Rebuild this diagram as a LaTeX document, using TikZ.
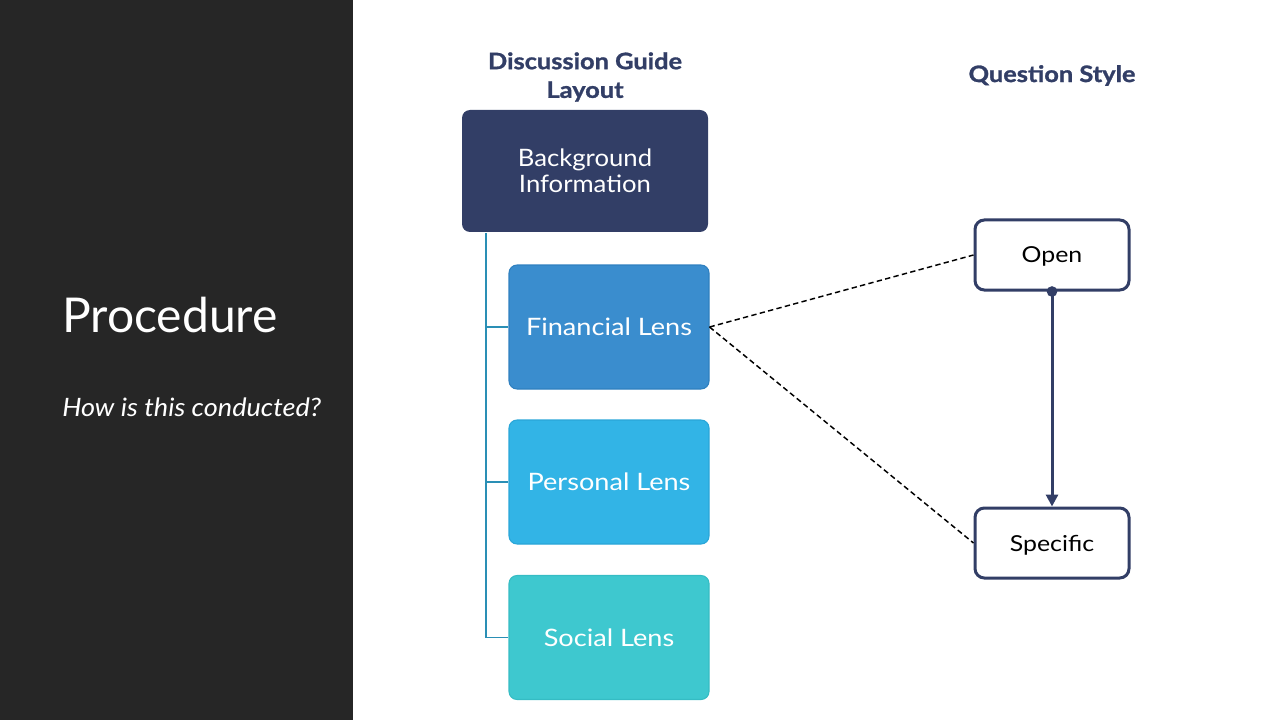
\documentclass[tikz,border=0pt]{standalone}
\usepackage{fontspec}
\setmainfont{Lato}
\newfontfamily\widefont{Lato}[FakeStretch=1.13]
\newfontfamily\slightwide{Lato}[FakeStretch=1.07]
\newfontfamily\headfont{Lato}[FakeStretch=1.12, BoldFeatures={FakeBold=1.2}]
\usetikzlibrary{arrows.meta}
\definecolor{panel}{HTML}{262626}
\definecolor{navy}{HTML}{323E66}
\definecolor{finblue}{HTML}{3A8DCE}
\definecolor{finedge}{HTML}{2F80C0}
\definecolor{perblue}{HTML}{32B4E6}
\definecolor{peredge}{HTML}{2AA6D8}
\definecolor{soccyan}{HTML}{3EC8CF}
\definecolor{socedge}{HTML}{35BCC4}
\definecolor{treeline}{HTML}{2A8FB5}
\tikzset{
  header/.style={text=navy, font=\headfont\bfseries\fontsize{17}{21.5}\selectfont, align=center},
  lensbox/.style={rounded corners=6pt, minimum width=150pt, minimum height=93pt,
    text=white, font=\widefont\fontsize{18}{19.5}\selectfont, line width=0.8pt, inner sep=0pt},
  stylebox/.style={draw=navy, line width=2.25pt, fill=white, rounded corners=7pt,
    minimum width=115.5pt, minimum height=52.5pt, inner sep=0pt, text depth=0pt,
    font=\widefont\fontsize{16.5}{19}\selectfont, text=black},
  branch/.style={draw=treeline, line width=1.2pt},
  link/.style={draw=black, line width=1.1pt, dash pattern=on 4pt off 2.5pt},
  flow/.style={draw=navy, line width=2.25pt, -{Triangle[length=9pt,width=9pt]}}
}
\begin{document}
\begin{tikzpicture}[x=0.75pt, y=-0.75pt]
  \useasboundingbox (0,0) rectangle (1280,720);
  % left title panel
  \fill[panel] (0,0) rectangle (353,720);
  \node[anchor=base west, text=white, inner sep=0pt, font=\fontsize{36}{40}\selectfont]
    (title) at (62,332) {Procedure};
  \node[anchor=base west, text=white, inner sep=0pt, font=\slightwide\itshape\fontsize{19}{22}\selectfont]
    (subtitle) at (62,416) {How is this conducted?};

  % column headers
  \node[header] (hdrleft) at (585,77) {Discussion Guide\\Layout};
  \node[header] (hdrright) at (1052,75.5) {Question Style};

  % discussion guide boxes
  \node[lensbox, fill=navy, minimum width=184.5pt, minimum height=91.5pt, align=center,
    font=\slightwide\fontsize{18}{19.5}\selectfont] (bg) at (585,171) {Background\\Information};
  \node[lensbox, fill=finblue, draw=finedge] (fin) at (609,327) {Financial Lens};
  \node[lensbox, fill=perblue, draw=peredge] (per) at (609,482) {Personal Lens};
  \node[lensbox, fill=soccyan, draw=socedge] (soc) at (609,637.5) {Social Lens};

  % tree connecting the lenses to the background block
  \coordinate (trunk) at (486,233);
  \draw[branch] (trunk) |- (soc.west);
  \draw[branch] (trunk |- fin.west) -- (fin.west);
  \draw[branch] (trunk |- per.west) -- (per.west);

  % question style boxes
  \node[stylebox] (open) at (1052,255) {Open};
  \node[stylebox] (spec) at (1052,543) {Specific};

  % links from the financial lens
  \draw[link] (fin.east) -- (open.west);
  \draw[link] (fin.east) -- (spec.west);

  % open to specific
  \draw[flow] (open.south) -- (spec.north);
  \fill[navy] (open.south) circle (4pt);
\end{tikzpicture}
\end{document}
